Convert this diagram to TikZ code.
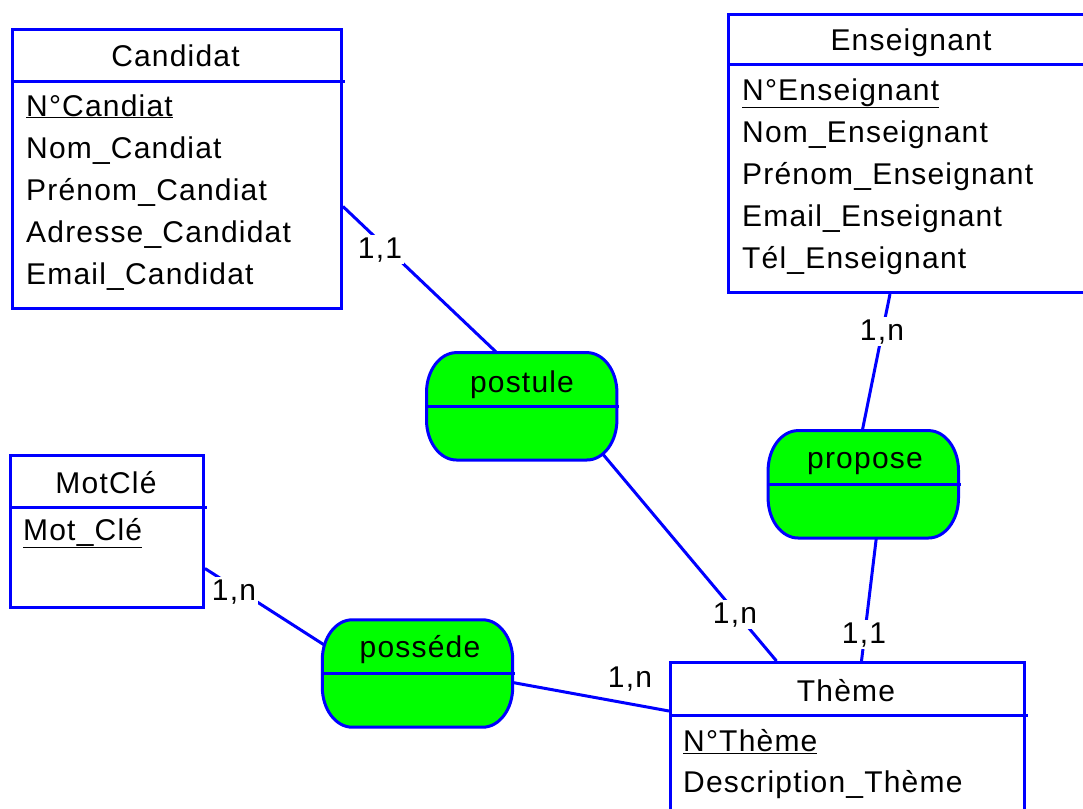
\documentclass[tikz,border=0pt]{standalone}
\usepackage{fontspec}
\setmainfont[LetterSpace=4]{Liberation Sans}
\usetikzlibrary{calc}
\definecolor{eblue}{RGB}{0,0,255}
\definecolor{rgreen}{RGB}{0,255,0}
\pgfdeclarelayer{bg}
\pgfsetlayers{bg,main}
\newcommand\drawrel[1]{%
  \draw[relsh] ([xshift=30pt]#1.north west) -- ([xshift=-30pt]#1.north east)
    arc[start angle=90,end angle=0,x radius=30pt,y radius=40pt]
    -- ([yshift=40pt]#1.south east)
    arc[start angle=0,end angle=-90,x radius=30pt,y radius=40pt]
    -- ([xshift=30pt]#1.south west)
    arc[start angle=270,end angle=180,x radius=30pt,y radius=40pt]
    -- ([yshift=-40pt]#1.north west)
    arc[start angle=180,end angle=90,x radius=30pt,y radius=40pt] -- cycle;
  \draw[link] (#1.west) -- ([xshift=2pt]#1.east);
}
\begin{document}
\begin{tikzpicture}[x=1pt,y=1pt,
  ent/.style={draw=eblue, line width=3pt, fill=white, rectangle, inner sep=0pt, anchor=north west},
  relnode/.style={rectangle, inner sep=0pt, minimum width=190pt, minimum height=107pt},
  relsh/.style={draw=eblue, line width=3pt, fill=rgreen},
  link/.style={draw=eblue, line width=3pt},
  attr/.style={font=\fontsize{30}{36}\selectfont, inner sep=0pt, anchor=base west},
  ttl/.style={font=\fontsize{30}{36}\selectfont, inner sep=0pt, anchor=base},
  card/.style={font=\fontsize{30}{36}\selectfont, fill=white, inner sep=2pt, anchor=base},
]
\useasboundingbox (0,0) rectangle (1083,-808);
\clip (0,0) rectangle (1083,-808);

% ---------- Entities ----------
\node[ent, minimum width=329pt, minimum height=279pt] (cand) at (11,-28) {};
\draw[link] ([yshift=-53pt]cand.north west) -- ([yshift=-53pt,xshift=2pt]cand.north east);
\node[ttl] (candT) at (175.5,-66.5) {Candidat};
\node[attr] (c1) at (26,-116) {\underline{N°Candiat}};
\node[attr] (c2) at (26,-158) {Nom\_Candiat};
\node[attr] (c3) at (26,-200) {Prénom\_Candiat};
\node[attr] (c4) at (26,-242) {Adresse\_Candidat};
\node[attr] (c5) at (26,-284) {Email\_Candidat};

\node[ent, minimum width=400pt, minimum height=278pt] (ens) at (727,-13) {};
\draw[link] ([yshift=-51pt]ens.north west) -- ([yshift=-51pt]ens.north east);
\node[ttl] (ensT) at (911,-51) {Enseignant};
\node[attr] (e1) at (742,-100) {\underline{N°Enseignant}};
\node[attr] (e2) at (742,-142) {Nom\_Enseignant};
\node[attr] (e3) at (742,-184) {Prénom\_Enseignant};
\node[attr] (e4) at (742,-226) {Email\_Enseignant};
\node[attr] (e5) at (742,-268) {Tél\_Enseignant};

\node[ent, minimum width=193pt, minimum height=152pt] (mot) at (9,-454) {};
\draw[link] ([yshift=-53pt]mot.north west) -- ([yshift=-53pt,xshift=2pt]mot.north east);
\node[ttl] (motT) at (106,-493) {MotClé};
\node[attr] (m1) at (23,-540) {\underline{Mot\_Clé}};

\node[ent, minimum width=354pt, minimum height=220pt] (theme) at (669,-661) {};
\draw[link] ([yshift=-54pt]theme.north west) -- ([yshift=-54pt,xshift=2pt]theme.north east);
\node[ttl] (themeT) at (846,-701) {Thème};
\node[attr] (t1) at (683,-751) {\underline{N°Thème}};
\node[attr] (t2) at (683,-792) {Description\_Thème};

% ---------- Relationships ----------
\node[relnode] (post) at (521.7,-406.3) {};
\drawrel{post}
\node[ttl] (postT) at (522,-392) {postule};

\node[relnode] (prop) at (863.3,-484.3) {};
\drawrel{prop}
\node[ttl] (propT) at (865,-468) {propose};

\node[relnode] (poss) at (417.5,-673.5) {};
\drawrel{poss}
\node[ttl] (possT) at (420,-657) {posséde};

% ---------- Connectors ----------
\begin{pgfonlayer}{bg}
\draw[link] ([yshift=-37.5pt]cand.east) -- ([xshift=-25pt]post.north);
\draw[link] ([xshift=-15pt,yshift=7pt]post.south east) -- ([xshift=-71pt]theme.north);
\draw[link] ([xshift=163pt]ens.south west) -- ([xshift=-1pt]prop.north);
\draw[link] ([xshift=13pt]prop.south) -- ([xshift=14pt]theme.north);
\draw[link] ([yshift=-37pt]mot.east) -- ([xshift=2pt,yshift=28.5pt]poss.west);
\draw[link] ([yshift=-9pt]poss.east) -- ([yshift=-50pt]theme.north west);
\end{pgfonlayer}

% ---------- Cardinalities ----------
\node[card] (k1) at (380,-258) {1,1};
\node[card] (k2) at (735,-623) {1,n};
\node[card] (k3) at (882,-340) {1,n};
\node[card] (k4) at (864,-643) {1,1};
\node[card] (k5) at (234,-600) {1,n};
\node[card] (k6) at (630,-687) {1,n};
\end{tikzpicture}
\end{document}
